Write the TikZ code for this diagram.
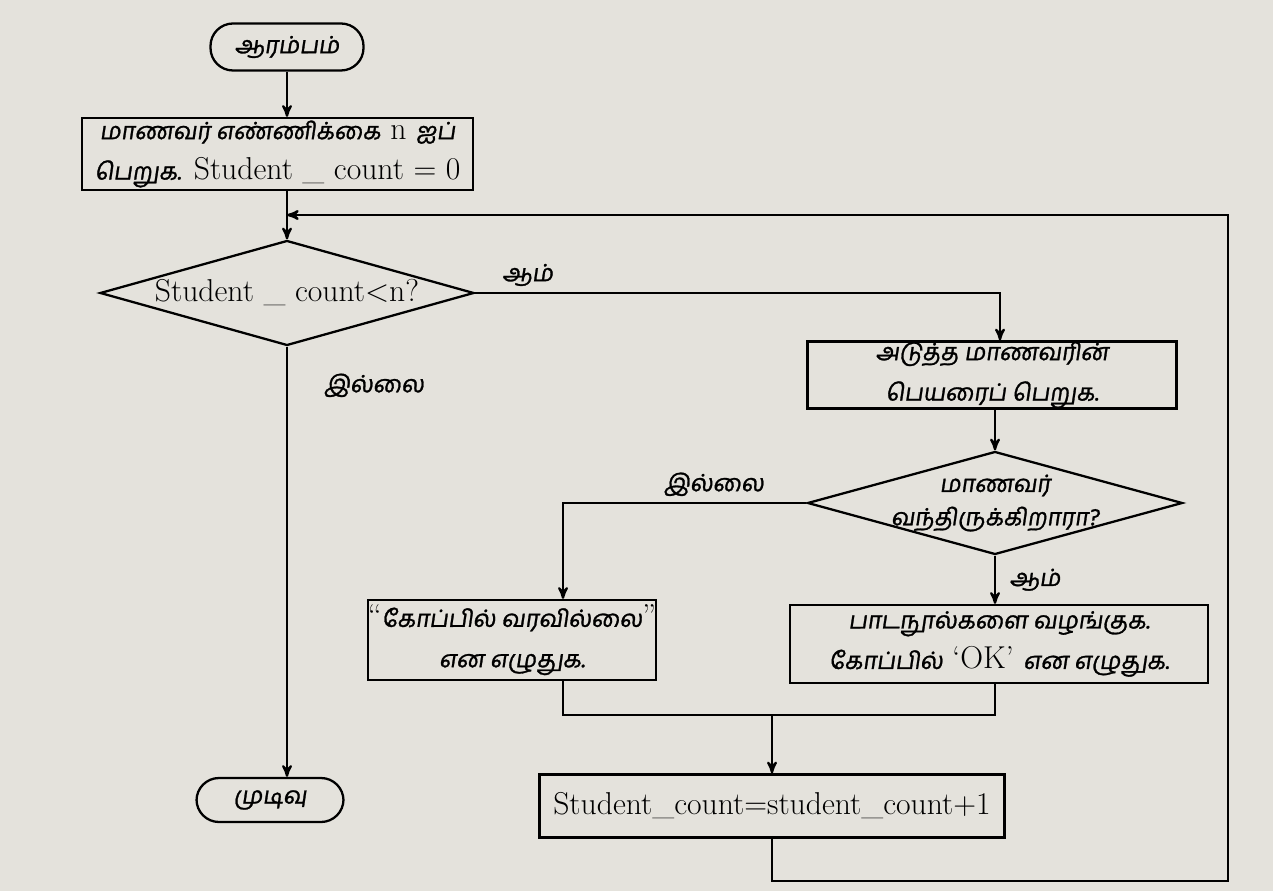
\documentclass[tikz,border=0pt]{standalone}
\usepackage{fontspec}
\newfontfamily\tamil[Script=Tamil,FakeSlant=0.15,FakeBold=1.2,Scale=0.75]{Hind Madurai}
\usetikzlibrary{arrows,shapes.geometric}
\definecolor{paper}{HTML}{E4E2DC}

\begin{document}
\begin{tikzpicture}[
    >=stealth',
    line width=1.3pt,
    font=\fontsize{18}{23}\selectfont,
    text centered,
    stepbox/.style={
      draw,
      rectangle,
      align=center,
      inner sep=0pt
    },
    decision/.style={
      draw,
      diamond,
      shape aspect=3.6,
      align=center,
      inner sep=0pt
    },
    terminal/.style={
      draw,
      rectangle,
      rounded corners=0.45cm,
      inner sep=0pt
    }
    ]

    \path[fill=paper] (0,0) rectangle (25.46,-17.82);

    \node [terminal, minimum width=3.06cm, minimum height=0.94cm] (start) at (5.74,-0.94) {\tamil ஆரம்பம்};
    \node [stepbox, minimum width=7.82cm, minimum height=1.44cm] (init) at (5.55,-3.08) {{\tamil மாணவர் எண்ணிக்கை} n {\tamil ஐப்}\\{\tamil பெறுக.} Student \_ count = 0};
    \node [decision, minimum width=7.48cm, minimum height=2.1cm] (check) at (5.74,-5.86) {Student \_ count<n?};

    \node [terminal, minimum width=2.94cm, minimum height=0.88cm] (stop) at (5.4,-16.0) {\tamil முடிவு};

    \node [stepbox, minimum width=7.38cm, minimum height=1.2cm] (getname) at (19.84,-7.5) {\tamil அடுத்த மாணவரின்\\\tamil பெயரைப் பெறுக.};
    \node [decision, minimum width=7.5cm, minimum height=2.06cm, inner sep=-4pt, font=\fontsize{18}{19}\selectfont] (present) at (19.9,-10.06) {\tamil மாணவர்\\\tamil வந்திருக்கிறாரா?};

    \node [stepbox, minimum width=5.7cm, minimum height=1.6cm] (absent) at (10.24,-12.8) {“{\tamil கோப்பில் வரவில்லை}”\\\tamil என எழுதுக.};
    \node [stepbox, minimum width=8.36cm, minimum height=1.56cm] (books) at (19.98,-12.88) {{\tamil பாடநூல்களை வழங்குக.}\\{\tamil கோப்பில்} ‘OK’ {\tamil என எழுதுக.}};

    \node [stepbox, minimum width=9.3cm, minimum height=1.26cm] (incr) at (15.44,-16.12) {Student\_count=student\_count+1};

    \coordinate (merge) at (15.44,-14.3);
    \coordinate (loopin) at (5.74,-4.3);
    \coordinate (loopcorner) at (24.56,-4.3);

    \draw[->] (start) -- (start.south |- init.north);
    \draw[->] (check.north |- init.south) -- (check.north);

    \draw[->] (check.east) -| node[pos=0.05, above] {\tamil ஆம்} (getname.north -| 20.0,0);
    \draw[->] (check.south) -- node[pos=0.09, right=0.6cm] {\tamil இல்லை} (check.south |- stop.north);

    \draw[->] (getname.south -| present.north) -- (present.north);
    \draw[->] (present.west) -| node[pos=0.19, above] {\tamil இல்லை} ([xshift=1.02cm]absent.north);
    \draw[->] (present.south) -- node[right=0.15cm] {\tamil ஆம்} (present.south |- books.north);

    \draw ([xshift=1.02cm]absent.south) |- (merge) -| (present.south |- books.south);
    \draw[->] (merge) -- (incr.north);

    \draw[->] (incr.south) -- ++(0,-0.84) -| (loopcorner) -- (loopin);

\end{tikzpicture}
\end{document}
